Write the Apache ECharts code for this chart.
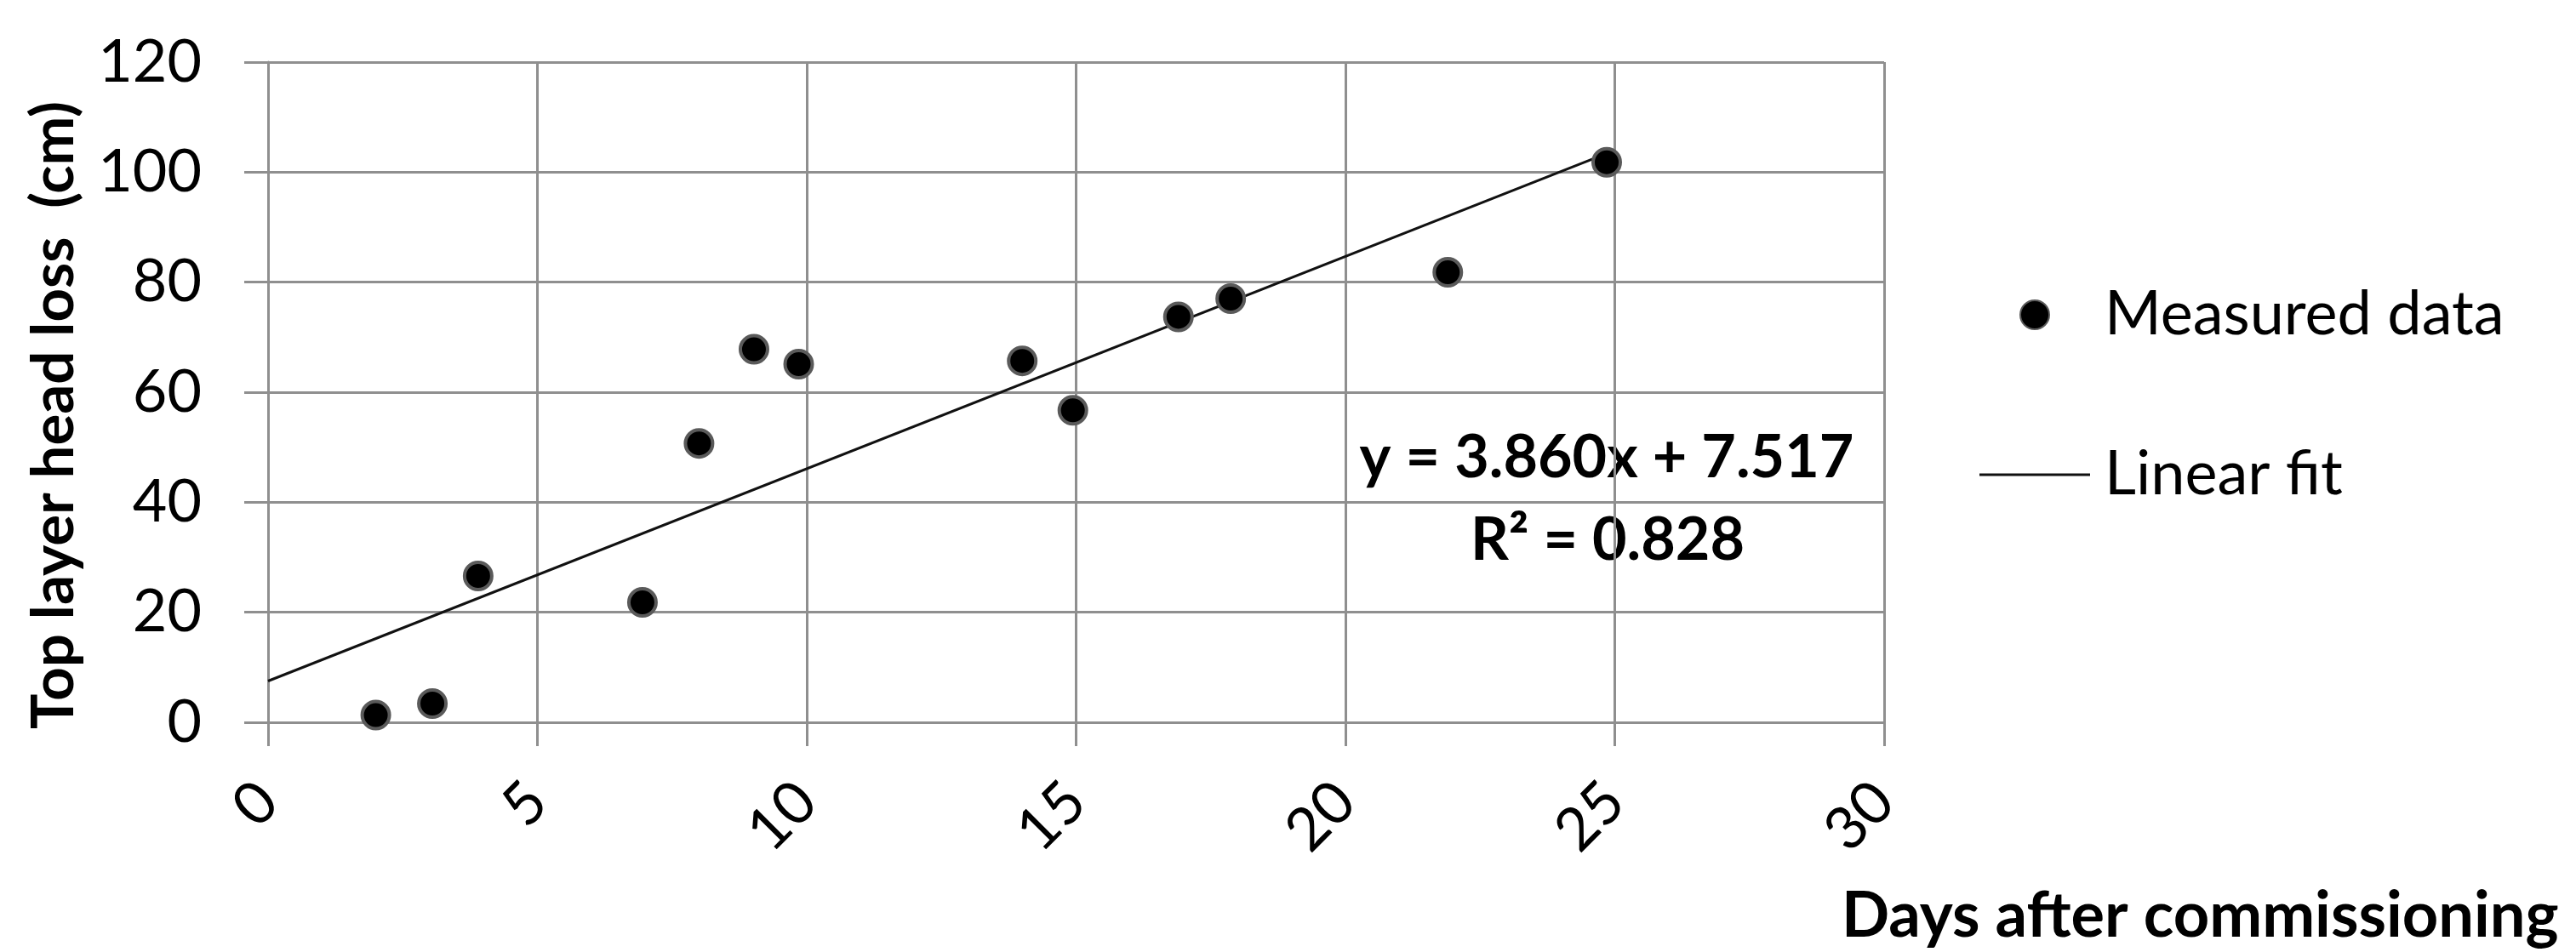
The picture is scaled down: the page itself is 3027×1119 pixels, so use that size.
<!DOCTYPE html>
<html>
<head>
<meta charset="utf-8">
<script src="https://cdn.jsdelivr.net/npm/echarts@6/dist/echarts.min.js"></script>
<style>
html,body{margin:0;padding:0;background:#fff;}
#chart{width:3027px;height:1119px;}
</style>
</head>
<body>
<div id="chart"></div>
<script>
// Measured data (days after commissioning, top layer head loss in cm)
const days = [2.0, 3.05, 3.9, 6.95, 8.0, 9.02, 9.85, 14.0, 14.94, 16.9, 17.87, 21.9, 24.85];
const headLoss = [1.3, 3.4, 26.6, 21.8, 50.7, 67.8, 65.1, 65.7, 56.7, 73.7, 77.0, 81.8, 101.8];
// Linear fit line end points (y = 3.860x + 7.517)
const fitX = [0, 24.85];
const fitY = [7.5, 103.4];
const xTicks = [0, 5, 10, 15, 20, 25, 30];
const yTicks = [0, 20, 40, 60, 80, 100, 120];
const seriesNames = ['Measured data', 'Linear fit'];
const eqText = 'y = 3.860x + 7.517';
const r2Text = 'R\u00B2 = 0.828';
const xTitle = 'Days after commissioning';
const yTitle = 'Top layer head loss  (cm)';

const FONT = 'Lato, "Open Sans", sans-serif';
const GRID = '#8f8f8f';

const chart = echarts.init(document.getElementById('chart'), null, {renderer: 'canvas'});
const option = {
  backgroundColor: '#fff',
  animation: false,
  grid: {left: 315, top: 73, width: 1899, height: 776, containLabel: false},
  xAxis: {
    type: 'value',
    min: xTicks[0], max: xTicks[xTicks.length - 1], interval: 5,
    axisLine: {show: true, lineStyle: {color: GRID, width: 3}},
    axisTick: {show: true, inside: false, length: 28, lineStyle: {color: GRID, width: 3}},
    splitLine: {show: true, lineStyle: {color: GRID, width: 3}},
    axisLabel: {rotate: 45, margin: 82, fontFamily: FONT, fontSize: 70, color: '#000'}
  },
  yAxis: {
    type: 'value',
    min: yTicks[0], max: yTicks[yTicks.length - 1], interval: 20,
    axisLine: {show: true, lineStyle: {color: GRID, width: 3}},
    axisTick: {show: true, inside: false, length: 28, lineStyle: {color: GRID, width: 3}},
    splitLine: {show: true, lineStyle: {color: GRID, width: 3}},
    axisLabel: {margin: 78, fontFamily: FONT, fontSize: 70, color: '#000'}
  },
  legend: {
    orient: 'vertical',
    left: 2321, top: 325,
    itemWidth: 130, itemHeight: 34,
    itemGap: 108,
    textStyle: {fontFamily: FONT, fontSize: 72, color: '#000', lineHeight: 80, padding: [0, 0, 0, 12]},
    data: [
      {name: seriesNames[0], icon: 'circle'},
      {name: seriesNames[1], icon: 'path://M0,0 L130,0 L130,3 L0,3 Z', itemStyle: {color: '#111', borderWidth: 0}}
    ]
  },
  series: [
    {
      name: seriesNames[1],
      type: 'line',
      data: fitX.map((x, i) => [x, fitY[i]]),
      showSymbol: false,
      symbol: 'none',
      lineStyle: {color: '#111', width: 3},
      itemStyle: {color: '#111'},
      z: 2
    },
    {
      name: seriesNames[0],
      type: 'scatter',
      data: days.map((d, i) => [d, headLoss[i]]),
      symbol: 'circle',
      symbolSize: 32,
      itemStyle: {color: '#000', borderColor: '#5a5a5a', borderWidth: 4, opacity: 1},
      z: 3
    }
  ],
  graphic: [
    {type: 'text', x: 64, y: 488, rotation: Math.PI / 2, style: {text: yTitle, font: 'bold 69px ' + FONT, fill: '#000', align: 'center', verticalAlign: 'middle'}},
    {type: 'text', x: 1888, y: 538, style: {text: eqText, font: 'bold 70px ' + FONT, fill: '#000', align: 'center', verticalAlign: 'middle'}},
    {type: 'text', x: 1889, y: 635, style: {text: r2Text, font: 'bold 70px ' + FONT, fill: '#000', align: 'center', verticalAlign: 'middle'}},
    {type: 'text', x: 2164, y: 1077, style: {text: xTitle, font: 'bold 74px ' + FONT, fill: '#000', align: 'left', verticalAlign: 'middle'}}
  ]
};
chart.setOption(option);
</script>
</body>
</html>
